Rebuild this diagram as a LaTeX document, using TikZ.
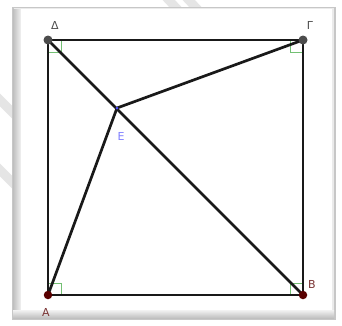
\documentclass[tikz,border=0pt]{standalone}
\usepackage{fontspec}
\setmainfont{DejaVu Sans}
\begin{document}
\begin{tikzpicture}[x=1pt,y=-1pt,
  edge/.style={line width=2.7pt,black!90},
  rmark/.style={draw=green!55!black!55,line width=0.7pt},
  gpt/.style={circle,fill=black!70,inner sep=0pt,minimum size=9pt},
  rpt/.style={circle,fill=red!35!black,inner sep=0pt,minimum size=8.5pt},
  bpt/.style={circle,fill=blue!70,inner sep=0pt,minimum size=3pt},
  lbl/.style={font=\fontsize{11}{13}\selectfont,inner sep=0pt}]
\useasboundingbox (0,0) rectangle (342,325);
\fill[white] (0,0) rectangle (342,325);
% watermark stripes
\begin{scope}
\clip (0,0) rectangle (342,325);
\draw[black!10,line width=9pt,line cap=round] (150,-20) -- (180,12);
\draw[black!10,line width=9pt,line cap=round] (170,-20) -- (200,12);
\draw[black!10,line width=9pt,line cap=round] (-20,80) -- (20,120);
\draw[black!10,line width=9pt,line cap=round] (-20,150) -- (20,190);
\end{scope}
% frame
\fill[black!22] (12,7) rectangle (336,320);
\fill[black!8] (14,8) rectangle (334,318);
\shade[left color=black!25,right color=black!5] (13,9) rectangle (21,312);
\shade[top color=black!5,bottom color=black!25] (13,310) rectangle (334,318);
\fill[white] (21,9) rectangle (332,310);
% points
\coordinate (D) at (48,40);
\coordinate (G) at (303,40);
\coordinate (A) at (48,295);
\coordinate (B) at (303,295);
\coordinate (E) at (117,108);
% right angle marks
\draw[rmark] (48,52) -- (61,52) -- (61,40);
\draw[rmark] (290,40) -- (290,52) -- (303,52);
\draw[rmark] (48,283) -- (61,283) -- (61,295);
\draw[rmark] (290,295) -- (290,283) -- (303,283);
% edges
\draw[edge] (D) -- (G) -- (B) -- (A) -- cycle;
\draw[edge] (D) -- (B);
\draw[edge] (G) -- (E) -- (A);
% point nodes
\node[gpt] (nD) at (D) {};
\node[gpt] (nG) at (G) {};
\node[rpt] (nA) at (A) {};
\node[rpt] (nB) at (B) {};
\node[bpt] (nE) at (E) {};
% labels
\node[lbl,text=black!70] (lD) at (55,25) {Δ};
\node[lbl,text=black!70] (lG) at (310,25) {Γ};
\node[lbl,text=red!35!black!80] (lA) at (46,312) {A};
\node[lbl,text=red!35!black!80] (lB) at (312,284) {B};
\node[lbl,text=blue!50] (lE) at (121,136) {E};
\end{tikzpicture}
\end{document}
